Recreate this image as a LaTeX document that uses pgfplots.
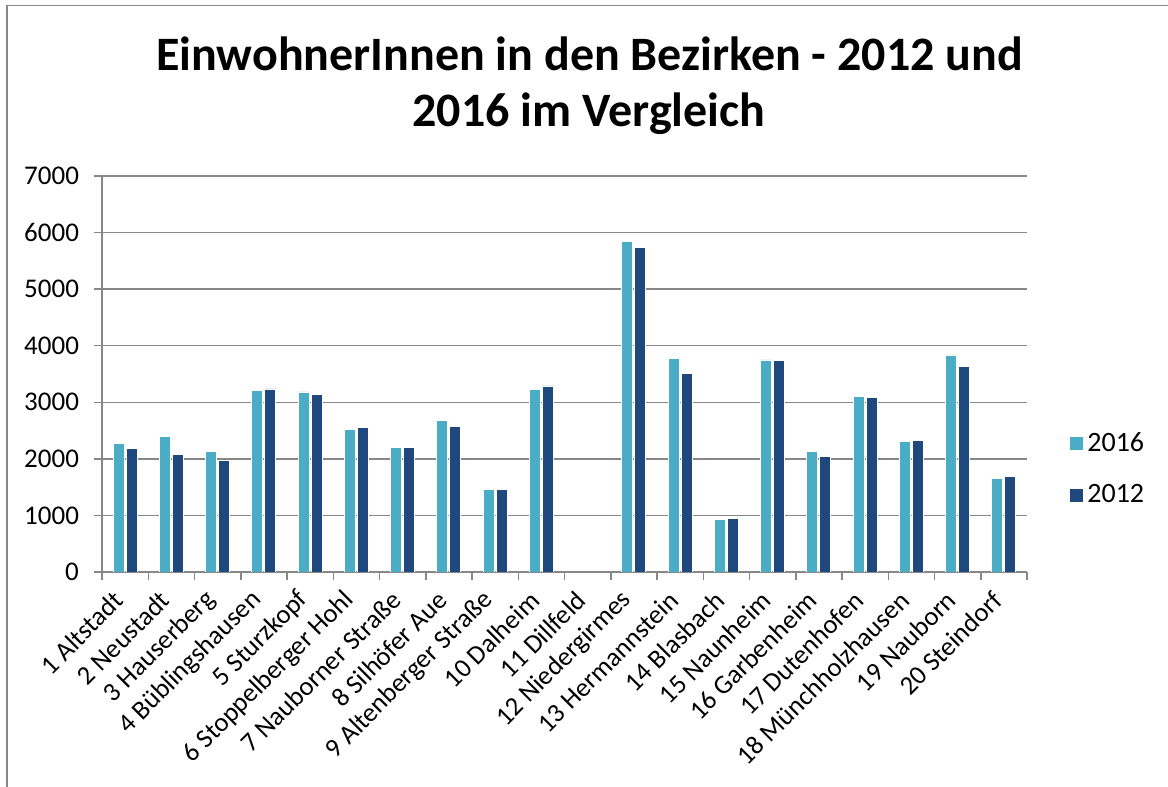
\documentclass[border=0pt]{standalone}
\usepackage{pgfplots}
\pgfplotsset{compat=1.18}
\usepackage{fontspec}
\setmainfont{Carlito}
\definecolor{c2016}{HTML}{4BACC6}
\definecolor{c2012}{HTML}{1F497D}
\definecolor{axgray}{HTML}{878787}
\begin{document}
\begin{tikzpicture}
\useasboundingbox (0,0) rectangle (584pt,393.5pt);
\fill[white] (0,0) rectangle (584pt,393.5pt);
\draw[axgray, line width=0.8pt] (3.5pt,0) -- (3.5pt,390.8pt) -- (584pt,390.8pt);
\node[anchor=base, font=\fontsize{24}{28}\selectfont\bfseries] at (294.75pt,358.2pt) {EinwohnerInnen in den Bezirken - 2012 und};
\node[anchor=base, font=\fontsize{24}{28}\selectfont\bfseries] at (294.5pt,330.2pt) {2016 im Vergleich};
\begin{axis}[
  scale only axis, width=462.5pt, height=198pt,
  at={(51pt,107.5pt)}, anchor=south west,
  ybar=1pt, bar width=5.5pt,
  xmin=0.5, xmax=20.5, ymin=0, ymax=7000,
  ytick={0,1000,...,7000},
  yticklabels={0,1000,2000,3000,4000,5000,6000,7000},
  scaled y ticks=false,
  axis x line*=bottom, axis y line*=left,
  axis line style={axgray, line width=0.75pt, -},
  ymajorgrids, grid style={axgray, line width=0.75pt},
  tick align=outside, major tick length=4pt,
  tick style={axgray, line width=0.75pt},
  tick label style={font=\fontsize{13.5}{16}\selectfont},
  xtick={0.5,1.5,...,20.5}, xticklabels={},
  extra x ticks={1,2,...,20},
  extra x tick labels={1 Altstadt,2 Neustadt,3 Hauserberg,4 Büblingshausen,5 Sturzkopf,6 Stoppelberger Hohl,7 Nauborner Straße,8 Silhöfer Aue,9 Altenberger Straße,10 Dalheim,11 Dillfeld,12 Niedergirmes,13 Hermannstein,14 Blasbach,15 Naunheim,16 Garbenheim,17 Dutenhofen,18 Münchholzhausen,19 Nauborn,20 Steindorf},
  extra x tick style={major tick length=0pt, tick style={draw=none},
     xticklabel style={rotate=45, anchor=east, font=\fontsize{13.3}{16}\selectfont, xshift=-7.3pt, yshift=-6.2pt}},
  y tick label style={font=\fontsize{13.5}{16}\selectfont, xshift=-4pt},
  legend style={at={(1.04,0.259)}, anchor=west, draw=none, fill=none,
     font=\fontsize{14}{17}\selectfont, row sep=11pt},
  legend cell align=left,
  legend image code/.code={\fill[#1, draw=none] (0pt,-3.25pt) rectangle (6.5pt,3.25pt);},
]
\addplot[fill=c2016, draw=white, line width=0.4pt] coordinates {
(1,2273) (2,2400) (3,2137) (4,3205) (5,3182) (6,2527) (7,2196) (8,2674) (9,1464) (10,3229)
(12,5850) (13,3778) (14,927) (15,3749) (16,2131) (17,3105) (18,2308) (19,3837) (20,1659)};
\addplot[fill=c2012, draw=white, line width=0.4pt] coordinates {
(1,2180) (2,2085) (3,1970) (4,3235) (5,3140) (6,2550) (7,2196) (8,2580) (9,1458) (10,3288)
(12,5738) (13,3512) (14,945) (15,3737) (16,2043) (17,3087) (18,2332) (19,3636) (20,1682)};
\legend{2016,2012}
\end{axis}
\end{tikzpicture}
\end{document}
